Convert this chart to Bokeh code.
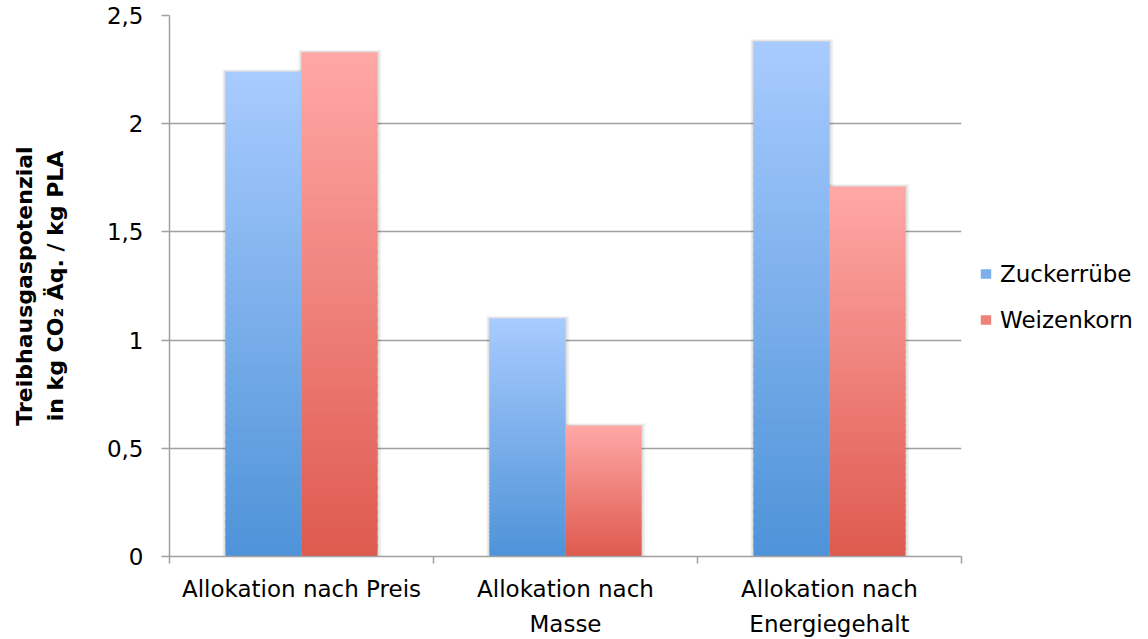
import numpy as np
from bokeh.plotting import figure
from bokeh.models import (Range1d, FixedTicker, CustomJSTickFormatter, Legend,
                          LegendItem, ColumnDataSource)
from bokeh.embed import file_html
from bokeh.resources import INLINE

# --- data ---------------------------------------------------------------
categories = ["Allokation nach Preis", "Allokation nach\nMasse",
              "Allokation nach\nEnergiegehalt"]
series_names = ["Zuckerrübe", "Weizenkorn"]
zuckerruebe = [2.24, 1.10, 2.38]
weizenkorn = [2.33, 0.605, 1.71]
y_ticks = [0, 0.5, 1, 1.5, 2, 2.5]

# --- layout / style -----------------------------------------------------
W, H = 1148, 639
LEFT, RIGHT, TOP, BOTTOM = 169, 187, 15, 83
FRAME_W = W - LEFT - RIGHT
FRAME_H = H - TOP - BOTTOM
Y_MAX = 2.5
N_GROUPS = len(categories)
BAR_W = 0.288
OFFSETS = [-0.144, 0.144]
GRID = "#A0A0A0"
FONT = "DejaVu Sans"
FS = "23px"

# top / bottom colours of the vertical gradient of each series
GRADIENTS = [((168, 203, 254), (78, 147, 216)),
             ((255, 168, 166), (222, 90, 79))]

px_x = N_GROUPS / FRAME_W   # data units per screen pixel
px_y = Y_MAX / FRAME_H

p = figure(frame_width=FRAME_W, frame_height=FRAME_H,
           output_backend="svg", toolbar_location=None,
           x_range=Range1d(0, N_GROUPS), y_range=Range1d(0, Y_MAX),
           min_border_left=LEFT, min_border_right=RIGHT,
           min_border_top=TOP, min_border_bottom=BOTTOM)
p.outline_line_color = None
p.background_fill_color = "white"
p.border_fill_color = "white"

# grid
p.xgrid.grid_line_color = None
p.ygrid.ticker = FixedTicker(ticks=y_ticks)
p.ygrid.grid_line_color = GRID
p.ygrid.grid_line_width = 1.5

# y axis
ya = p.yaxis[0]
ya.ticker = FixedTicker(ticks=y_ticks)
ya.formatter = CustomJSTickFormatter(code="return tick.toString().replace('.', ',')")
ya.axis_line_color = GRID
ya.axis_line_width = 1.5
ya.major_tick_line_color = GRID
ya.major_tick_line_width = 1.5
ya.major_tick_out = 8
ya.major_tick_in = 0
ya.minor_tick_line_color = None
ya.major_label_standoff = 18
ya.major_label_text_font = FONT
ya.major_label_text_font_size = FS
ya.major_label_text_color = "black"
ya.axis_label = "Treibhausgaspotenzial\nin kg CO₂ Äq. / kg PLA"
ya.axis_label_text_font = FONT
ya.axis_label_text_font_size = "22px"
ya.axis_label_text_font_style = "bold"
ya.axis_label_text_color = "black"
ya.axis_label_text_line_height = 1.25
ya.axis_label_standoff = 36

# x axis: tick marks at group boundaries, labels at group centres
xa = p.xaxis[0]
xa.ticker = FixedTicker(ticks=[i + 0.5 for i in range(N_GROUPS)],
                        minor_ticks=list(range(N_GROUPS + 1)))
xa.formatter = CustomJSTickFormatter(args=dict(labels=categories),
                                     code="return labels[Math.floor(tick)]")
xa.axis_line_color = GRID
xa.axis_line_width = 1.5
xa.major_tick_line_color = None
xa.major_tick_out = 0
xa.major_tick_in = 0
xa.minor_tick_line_color = GRID
xa.minor_tick_line_width = 1.5
xa.minor_tick_out = 7
xa.minor_tick_in = 0
xa.major_label_standoff = 12
xa.major_label_text_font = FONT
xa.major_label_text_font_size = FS
xa.major_label_text_color = "black"
xa.major_label_text_line_height = 1.37


def lerp(c0, c1, t):
    return "#%02x%02x%02x" % tuple(int(round(a + (b - a) * t)) for a, b in zip(c0, c1))


N_SLICES = 60
series_values = [zuckerruebe, weizenkorn]

# soft shadow behind every bar
sh = dict(left=[], right=[], top=[], bottom=[])
for s, vals in enumerate(series_values):
    for i, v in enumerate(vals):
        cx = i + 0.5 + OFFSETS[s]
        for k in (1, 2, 3, 4):
            sh["left"].append(cx - BAR_W / 2 - k * px_x * 0.8)
            sh["right"].append(cx + BAR_W / 2 + k * px_x)
            sh["top"].append(v + k * px_y * 0.6)
            sh["bottom"].append(0)
p.quad(source=ColumnDataSource(sh), left="left", right="right", top="top",
       bottom="bottom", fill_color="#000000", fill_alpha=0.035, line_color=None)

# bars as stacks of thin slices forming a vertical gradient
bar_renderers = []
for s, vals in enumerate(series_values):
    top_c, bot_c = GRADIENTS[s]
    d = dict(left=[], right=[], top=[], bottom=[], color=[])
    for i, v in enumerate(vals):
        cx = i + 0.5 + OFFSETS[s]
        for k in range(N_SLICES):
            d["left"].append(cx - BAR_W / 2)
            d["right"].append(cx + BAR_W / 2)
            d["bottom"].append(v * k / N_SLICES)
            d["top"].append(min(v, v * (k + 1.5) / N_SLICES))
            d["color"].append(lerp(bot_c, top_c, (k + 0.5) / N_SLICES))
    r = p.quad(source=ColumnDataSource(d), left="left", right="right", top="top",
               bottom="bottom", fill_color="color", line_color=None)
    bar_renderers.append(r)

# legend on the right, swatch colour taken from the middle of each gradient
items = [LegendItem(label=name, renderers=[bar_renderers[s]], index=N_SLICES // 2)
         for s, name in enumerate(series_names)]
legend = Legend(items=items, location="center_left", orientation="vertical",
                glyph_width=13, glyph_height=12, label_standoff=8,
                spacing=20, padding=0, margin=18,
                title=" ", title_text_font_size="8px", title_standoff=12,
                border_line_color=None, background_fill_alpha=0,
                label_text_font=FONT, label_text_font_size=FS,
                label_text_color="black")
p.add_layout(legend, "right")

open("out.html", "w").write(file_html(p, INLINE))
